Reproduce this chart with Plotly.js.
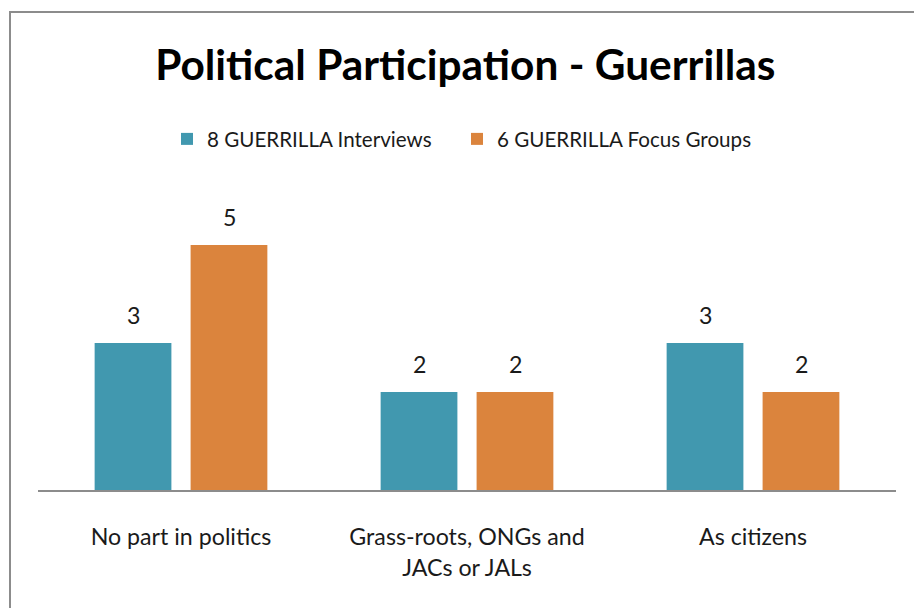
<!DOCTYPE html>
<html>
<head>
<meta charset="utf-8">
<script src="https://cdn.plot.ly/plotly-3.0.1.min.js"></script>
<style>
  html, body { margin: 0; padding: 0; background: #ffffff; }
  #wrap { position: relative; width: 914px; height: 608px; overflow: hidden; }
  #chart { width: 914px; height: 608px; }
  #frame { position: absolute; left: 9px; top: 11px; width: 920px; height: 620px;
           border-left: 2px solid #8c8c8c; border-top: 2px solid #8c8c8c; pointer-events: none; }
</style>
</head>
<body>
<div id="wrap">
  <div id="chart"></div>
  <div id="frame"></div>
</div>
<script>
// ---- data ----
const chartTitle = "Political Participation - Guerrillas";
const categories = ["No part in politics", "Grass-roots, ONGs and<br>JACs or JALs", "As citizens"];
const seriesNames = ["8 GUERRILLA Interviews", "6 GUERRILLA Focus Groups"];
const interviews = [3, 2, 3];
const focusGroups = [5, 2, 2];

// ---- styles ----
const colors = ["#4198AF", "#DB843D"];
const FAMILY = "Lato, Carlito, 'Open Sans', sans-serif";

function fitSize(text, weight, target) {
  const ctx = document.createElement("canvas").getContext("2d");
  ctx.font = weight + " 100px Lato, 'Open Sans', sans-serif";
  const w = ctx.measureText(text).width;
  return Math.round(100 * target / w * 10) / 10;
}
const titleSize = fitSize(chartTitle, "bold", 621);
const legendSize = fitSize(seriesNames[0], "normal", 225);
const tickSize = fitSize("No part in politics", "normal", 181);
const labelSize = tickSize;

const seriesValues = [interviews, focusGroups];
const legendIds = ["legend", "legend2"];
const traces = seriesValues.map((vals, i) => ({
  type: "bar",
  name: seriesNames[i],
  x: categories,
  y: vals,
  legend: legendIds[i],
  marker: { color: colors[i], line: { width: 0 } },
  hoverinfo: "none"
}));

const slotShift = 48;
const annotations = [];
seriesValues.forEach((vals, i) => {
  vals.forEach((v, j) => {
    annotations.push({
      x: categories[j], y: v, xref: "x", yref: "y",
      text: String(v), showarrow: false,
      xanchor: "center", yanchor: "bottom",
      xshift: i === 0 ? -slotShift : slotShift,
      yshift: 12,
      font: { family: FAMILY, size: labelSize, color: "#1a1a1a" }
    });
  });
});

function legendAt(leftPx) {
  return {
    orientation: "h",
    x: (leftPx - 38) / 858, xanchor: "left",
    y: (490 - 139) / 294, yanchor: "middle",
    font: { family: FAMILY, size: legendSize, color: "#1a1a1a" },
    bgcolor: "rgba(0,0,0,0)"
  };
}

const layout = {
  width: 914, height: 608,
  margin: { l: 38, r: 18, t: 196, b: 118, pad: 0 },
  paper_bgcolor: "rgba(0,0,0,0)",
  plot_bgcolor: "rgba(0,0,0,0)",
  font: { family: FAMILY, color: "#1a1a1a" },
  title: {
    text: "<b>" + chartTitle + "</b>",
    font: { family: FAMILY, size: titleSize, color: "#000000" },
    x: 0.498, xanchor: "center", xref: "paper",
    y: 1 - 65 / 608, yanchor: "middle", yref: "container"
  },
  barmode: "group",
  bargap: 0.329,
  bargroupgap: 0.2,
  showlegend: true,
  legend: legendAt(167),
  legend2: legendAt(457),
  xaxis: {
    type: "category",
    showline: true, linecolor: "#8c8c8c", linewidth: 1.5,
    showgrid: false, zeroline: false,
    ticks: "", ticklabelstandoff: 26,
    tickfont: { family: FAMILY, size: tickSize, color: "#1a1a1a" }
  },
  yaxis: {
    range: [0, 6],
    visible: false, showgrid: false, zeroline: false, fixedrange: true
  },
  annotations: annotations
};

Plotly.newPlot("chart", traces, layout, { displayModeBar: false, staticPlot: true });
</script>
</body>
</html>
